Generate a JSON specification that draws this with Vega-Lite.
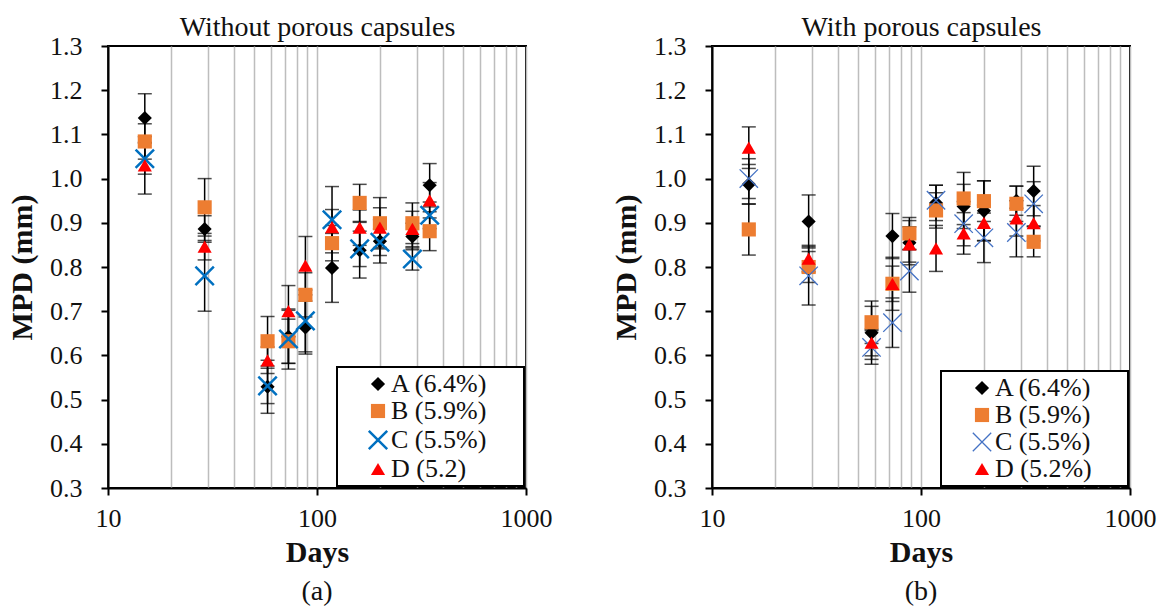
{
  "$schema": "https://vega.github.io/schema/vega-lite/v6.json",
  "background": "white",
  "padding": {"left": 6, "top": 12, "right": 5, "bottom": 3},
  "bounds": "flush",
  "spacing": 186,
  "config": {
    "font": "Times New Roman",
    "view": {"stroke": "black", "strokeWidth": 2},
    "axis": {"labelFont": "Times New Roman", "titleFont": "Times New Roman", "labelColor": "#111111", "titleColor": "#111111", "labelFontSize": 26, "titleFontSize": 30, "titleFontWeight": "bold", "domainColor": "black", "domainWidth": 2, "tickColor": "black", "tickWidth": 2, "tickSize": 7},
    "legend": {"labelFont": "Times New Roman", "titleFont": "Times New Roman", "orient": "bottom-right", "offset": 2, "padding": 4, "strokeColor": "black", "strokeWidth": 2, "fillColor": "white", "rowPadding": 1, "labelFontSize": 26, "labelColor": "#111111", "symbolSize": 200, "symbolOffset": 24, "labelOffset": 0, "titleOrient": "right", "titlePadding": 32, "titleFontSize": 26},
    "title": {"font": "Times New Roman", "fontSize": 28, "fontWeight": "normal", "color": "#111111"}
  },
  "datasets": {
    "mpd": [
      {"panel": "a", "s": "A (6.4%)", "day": 15, "v": 1.137, "err": 0.055},
      {"panel": "a", "s": "B (5.9%)", "day": 15, "v": 1.084, "err": 0.04},
      {"panel": "a", "s": "C (5.5%)", "day": 15, "v": 1.045, "err": 0.035},
      {"panel": "a", "s": "D (5.2)", "day": 15, "v": 1.030, "err": 0.065},
      {"panel": "a", "s": "A (6.4%)", "day": 29, "v": 0.886, "err": 0.03},
      {"panel": "a", "s": "B (5.9%)", "day": 29, "v": 0.935, "err": 0.065},
      {"panel": "a", "s": "C (5.5%)", "day": 29, "v": 0.780, "err": 0.08},
      {"panel": "a", "s": "D (5.2)", "day": 29, "v": 0.846, "err": 0.03},
      {"panel": "a", "s": "A (6.4%)", "day": 58, "v": 0.529, "err": 0.06},
      {"panel": "a", "s": "B (5.9%)", "day": 58, "v": 0.632, "err": 0.056},
      {"panel": "a", "s": "C (5.5%)", "day": 58, "v": 0.531, "err": 0.04},
      {"panel": "a", "s": "D (5.2)", "day": 58, "v": 0.589, "err": 0.03},
      {"panel": "a", "s": "A (6.4%)", "day": 73, "v": 0.642, "err": 0.06},
      {"panel": "a", "s": "B (5.9%)", "day": 73, "v": 0.632, "err": 0.05},
      {"panel": "a", "s": "C (5.5%)", "day": 73, "v": 0.637, "err": 0.068},
      {"panel": "a", "s": "D (5.2)", "day": 73, "v": 0.700, "err": 0.058},
      {"panel": "a", "s": "A (6.4%)", "day": 88, "v": 0.663, "err": 0.06},
      {"panel": "a", "s": "B (5.9%)", "day": 88, "v": 0.737, "err": 0.05},
      {"panel": "a", "s": "C (5.5%)", "day": 88, "v": 0.678, "err": 0.07},
      {"panel": "a", "s": "D (5.2)", "day": 88, "v": 0.803, "err": 0.066},
      {"panel": "a", "s": "A (6.4%)", "day": 118, "v": 0.798, "err": 0.078},
      {"panel": "a", "s": "B (5.9%)", "day": 118, "v": 0.854, "err": 0.04},
      {"panel": "a", "s": "C (5.5%)", "day": 118, "v": 0.907, "err": 0.075},
      {"panel": "a", "s": "D (5.2)", "day": 118, "v": 0.890, "err": 0.04},
      {"panel": "a", "s": "A (6.4%)", "day": 160, "v": 0.838, "err": 0.063},
      {"panel": "a", "s": "B (5.9%)", "day": 160, "v": 0.945, "err": 0.042},
      {"panel": "a", "s": "C (5.5%)", "day": 160, "v": 0.841, "err": 0.04},
      {"panel": "a", "s": "D (5.2)", "day": 160, "v": 0.889, "err": 0.04},
      {"panel": "a", "s": "A (6.4%)", "day": 200, "v": 0.858, "err": 0.049},
      {"panel": "a", "s": "B (5.9%)", "day": 200, "v": 0.899, "err": 0.058},
      {"panel": "a", "s": "C (5.5%)", "day": 200, "v": 0.856, "err": 0.03},
      {"panel": "a", "s": "D (5.2)", "day": 200, "v": 0.889, "err": 0.045},
      {"panel": "a", "s": "A (6.4%)", "day": 286, "v": 0.869, "err": 0.03},
      {"panel": "a", "s": "B (5.9%)", "day": 286, "v": 0.899, "err": 0.046},
      {"panel": "a", "s": "C (5.5%)", "day": 286, "v": 0.818, "err": 0.025},
      {"panel": "a", "s": "D (5.2)", "day": 286, "v": 0.886, "err": 0.04},
      {"panel": "a", "s": "A (6.4%)", "day": 346, "v": 0.985, "err": 0.049},
      {"panel": "a", "s": "B (5.9%)", "day": 346, "v": 0.881, "err": 0.044},
      {"panel": "a", "s": "C (5.5%)", "day": 346, "v": 0.917, "err": 0.03},
      {"panel": "a", "s": "D (5.2)", "day": 346, "v": 0.951, "err": 0.04},
      {"panel": "b", "s": "A (6.4%)", "day": 15, "v": 0.987, "err": 0.045},
      {"panel": "b", "s": "B (5.9%)", "day": 15, "v": 0.885, "err": 0.058},
      {"panel": "b", "s": "C (5.5%)", "day": 15, "v": 1.000, "err": 0.045},
      {"panel": "b", "s": "D (5.2%)", "day": 15, "v": 1.070, "err": 0.047},
      {"panel": "b", "s": "A (6.4%)", "day": 29, "v": 0.903, "err": 0.06},
      {"panel": "b", "s": "B (5.9%)", "day": 29, "v": 0.800, "err": 0.035},
      {"panel": "b", "s": "C (5.5%)", "day": 29, "v": 0.780, "err": 0.066},
      {"panel": "b", "s": "D (5.2%)", "day": 29, "v": 0.819, "err": 0.03},
      {"panel": "b", "s": "A (6.4%)", "day": 58, "v": 0.651, "err": 0.06},
      {"panel": "b", "s": "B (5.9%)", "day": 58, "v": 0.675, "err": 0.048},
      {"panel": "b", "s": "C (5.5%)", "day": 58, "v": 0.618, "err": 0.038},
      {"panel": "b", "s": "D (5.2%)", "day": 58, "v": 0.629, "err": 0.03},
      {"panel": "b", "s": "A (6.4%)", "day": 73, "v": 0.870, "err": 0.051},
      {"panel": "b", "s": "B (5.9%)", "day": 73, "v": 0.762, "err": 0.06},
      {"panel": "b", "s": "C (5.5%)", "day": 73, "v": 0.674, "err": 0.056},
      {"panel": "b", "s": "D (5.2%)", "day": 73, "v": 0.762, "err": 0.04},
      {"panel": "b", "s": "A (6.4%)", "day": 88, "v": 0.855, "err": 0.05},
      {"panel": "b", "s": "B (5.9%)", "day": 88, "v": 0.876, "err": 0.036},
      {"panel": "b", "s": "C (5.5%)", "day": 88, "v": 0.791, "err": 0.048},
      {"panel": "b", "s": "D (5.2%)", "day": 88, "v": 0.851, "err": 0.04},
      {"panel": "b", "s": "A (6.4%)", "day": 118, "v": 0.945, "err": 0.04},
      {"panel": "b", "s": "B (5.9%)", "day": 118, "v": 0.928, "err": 0.04},
      {"panel": "b", "s": "C (5.5%)", "day": 118, "v": 0.951, "err": 0.034},
      {"panel": "b", "s": "D (5.2%)", "day": 118, "v": 0.842, "err": 0.052},
      {"panel": "b", "s": "A (6.4%)", "day": 160, "v": 0.937, "err": 0.05},
      {"panel": "b", "s": "B (5.9%)", "day": 160, "v": 0.955, "err": 0.059},
      {"panel": "b", "s": "C (5.5%)", "day": 160, "v": 0.898, "err": 0.05},
      {"panel": "b", "s": "D (5.2%)", "day": 160, "v": 0.876, "err": 0.047},
      {"panel": "b", "s": "A (6.4%)", "day": 200, "v": 0.927, "err": 0.068},
      {"panel": "b", "s": "B (5.9%)", "day": 200, "v": 0.949, "err": 0.046},
      {"panel": "b", "s": "C (5.5%)", "day": 200, "v": 0.866, "err": 0.056},
      {"panel": "b", "s": "D (5.2%)", "day": 200, "v": 0.900, "err": 0.04},
      {"panel": "b", "s": "A (6.4%)", "day": 286, "v": 0.950, "err": 0.033},
      {"panel": "b", "s": "B (5.9%)", "day": 286, "v": 0.943, "err": 0.04},
      {"panel": "b", "s": "C (5.5%)", "day": 286, "v": 0.878, "err": 0.055},
      {"panel": "b", "s": "D (5.2%)", "day": 286, "v": 0.910, "err": 0.04},
      {"panel": "b", "s": "A (6.4%)", "day": 346, "v": 0.972, "err": 0.056},
      {"panel": "b", "s": "B (5.9%)", "day": 346, "v": 0.857, "err": 0.034},
      {"panel": "b", "s": "C (5.5%)", "day": 346, "v": 0.943, "err": 0.05},
      {"panel": "b", "s": "D (5.2%)", "day": 346, "v": 0.899, "err": 0.04}
    ]
  },
  "resolve": {
    "scale": {"fill": "independent", "stroke": "independent", "shape": "independent"},
    "legend": {"fill": "independent", "stroke": "independent", "shape": "independent"}
  },
  "hconcat": [
    {
      "width": 418,
      "height": 442,
      "title": {"text": "(a)", "orient": "bottom", "offset": 11},
      "data": {"name": "mpd"},
      "transform": [{"filter": {"field": "panel", "equal": "a"}}],
      "resolve": {"axis": {"x": "independent"}},
      "layer": [
        {
          "mark": {"type": "errorbar", "ticks": {"size": 14, "thickness": 1.5, "color": "black"}, "rule": {"strokeWidth": 1.5, "color": "black"}},
          "encoding": {
            "x": {"field": "day", "type": "quantitative", "scale": {"type": "log", "domain": [10, 1000]},
              "axis": {"orient": "top", "title": "Without porous capsules", "labels": false, "ticks": false, "domain": false, "grid": false, "titleFontSize": 28, "titleFontWeight": "normal", "titlePadding": 5}},
            "y": {"field": "v", "type": "quantitative", "scale": {"domain": [0.3, 1.3]}, "title": "MPD (mm)",
              "axis": {"values": [0.3, 0.4, 0.5, 0.6, 0.7, 0.8, 0.9, 1.0, 1.1, 1.2, 1.3], "format": ".1f", "grid": false, "labelPadding": 19, "titlePadding": 12}},
            "yError": {"field": "err"}
          }
        },
        {
          "mark": {"type": "point", "filled": true, "opacity": 1, "size": 200, "strokeWidth": 2.5},
          "encoding": {
            "x": {"field": "day", "type": "quantitative", "scale": {"type": "log", "domain": [10, 1000]},
              "axis": {"orient": "bottom", "title": "Days", "values": [10, 20, 30, 40, 50, 60, 70, 80, 90, 100, 200, 300, 400, 500, 600, 700, 800, 900, 1000],
                "grid": true, "gridColor": "#BDBDBD", "gridWidth": 1.5, "labelFlush": false, "labelOverlap": false,
                "labelExpr": "indexof([10,100,1000], datum.value) >= 0 ? format(datum.value, 'd') : ''",
                "tickOpacity": {"condition": {"test": "indexof([10,100,1000], datum.value) >= 0", "value": 1}, "value": 0},
                "labelPadding": 10, "titlePadding": 6}},
            "y": {"field": "v", "type": "quantitative", "scale": {"domain": [0.3, 1.3]}, "title": "MPD (mm)",
              "axis": {"values": [0.3, 0.4, 0.5, 0.6, 0.7, 0.8, 0.9, 1.0, 1.1, 1.2, 1.3], "format": ".1f", "grid": false, "labelPadding": 19, "titlePadding": 12}},
            "fill": {"field": "s", "type": "nominal", "title": "\u00a0",
              "scale": {"domain": ["A (6.4%)", "B (5.9%)", "C (5.5%)", "D (5.2)"], "range": ["black", "#ED7D31", "transparent", "#FF0000"]},
              "legend": {"symbolStrokeWidth": 2.5}},
            "stroke": {"field": "s", "type": "nominal", "title": "\u00a0",
              "scale": {"domain": ["A (6.4%)", "B (5.9%)", "C (5.5%)", "D (5.2)"], "range": ["transparent", "transparent", "#0070C0", "transparent"]},
              "legend": {"symbolStrokeWidth": 2.5}},
            "shape": {"field": "s", "type": "nominal", "title": "\u00a0",
              "scale": {"domain": ["A (6.4%)", "B (5.9%)", "C (5.5%)", "D (5.2)"], "range": ["diamond", "square", "M-1.3,-1.3L1.3,1.3M1.3,-1.3L-1.3,1.3", "triangle-up"]},
              "legend": {"symbolStrokeWidth": 2.5}}
          }
        }
      ]
    },
    {
      "width": 418,
      "height": 442,
      "title": {"text": "(b)", "orient": "bottom", "offset": 11},
      "data": {"name": "mpd"},
      "transform": [{"filter": {"field": "panel", "equal": "b"}}],
      "resolve": {"axis": {"x": "independent"}},
      "layer": [
        {
          "mark": {"type": "errorbar", "ticks": {"size": 14, "thickness": 1.5, "color": "black"}, "rule": {"strokeWidth": 1.5, "color": "black"}},
          "encoding": {
            "x": {"field": "day", "type": "quantitative", "scale": {"type": "log", "domain": [10, 1000]},
              "axis": {"orient": "top", "title": "With porous capsules", "labels": false, "ticks": false, "domain": false, "grid": false, "titleFontSize": 28, "titleFontWeight": "normal", "titlePadding": 5}},
            "y": {"field": "v", "type": "quantitative", "scale": {"domain": [0.3, 1.3]}, "title": "MPD (mm)",
              "axis": {"values": [0.3, 0.4, 0.5, 0.6, 0.7, 0.8, 0.9, 1.0, 1.1, 1.2, 1.3], "format": ".1f", "grid": false, "labelPadding": 19, "titlePadding": 12}},
            "yError": {"field": "err"}
          }
        },
        {
          "mark": {"type": "point", "filled": true, "opacity": 1, "size": 200, "strokeWidth": 1.3},
          "encoding": {
            "x": {"field": "day", "type": "quantitative", "scale": {"type": "log", "domain": [10, 1000]},
              "axis": {"orient": "bottom", "title": "Days", "values": [10, 20, 30, 40, 50, 60, 70, 80, 90, 100, 200, 300, 400, 500, 600, 700, 800, 900, 1000],
                "grid": true, "gridColor": "#BDBDBD", "gridWidth": 1.5, "labelFlush": false, "labelOverlap": false,
                "labelExpr": "indexof([10,100,1000], datum.value) >= 0 ? format(datum.value, 'd') : ''",
                "tickOpacity": {"condition": {"test": "indexof([10,100,1000], datum.value) >= 0", "value": 1}, "value": 0},
                "labelPadding": 10, "titlePadding": 6}},
            "y": {"field": "v", "type": "quantitative", "scale": {"domain": [0.3, 1.3]}, "title": "MPD (mm)",
              "axis": {"values": [0.3, 0.4, 0.5, 0.6, 0.7, 0.8, 0.9, 1.0, 1.1, 1.2, 1.3], "format": ".1f", "grid": false, "labelPadding": 19, "titlePadding": 12}},
            "fill": {"field": "s", "type": "nominal", "title": "\u00a0",
              "scale": {"domain": ["A (6.4%)", "B (5.9%)", "C (5.5%)", "D (5.2%)"], "range": ["black", "#ED7D31", "transparent", "#FF0000"]},
              "legend": {"symbolStrokeWidth": 1.3}},
            "stroke": {"field": "s", "type": "nominal", "title": "\u00a0",
              "scale": {"domain": ["A (6.4%)", "B (5.9%)", "C (5.5%)", "D (5.2%)"], "range": ["transparent", "transparent", "#4472C4", "transparent"]},
              "legend": {"symbolStrokeWidth": 1.3}},
            "shape": {"field": "s", "type": "nominal", "title": "\u00a0",
              "scale": {"domain": ["A (6.4%)", "B (5.9%)", "C (5.5%)", "D (5.2%)"], "range": ["diamond", "square", "M-1.3,-1.3L1.3,1.3M1.3,-1.3L-1.3,1.3", "triangle-up"]},
              "legend": {"symbolStrokeWidth": 1.3}}
          }
        }
      ]
    }
  ]
}
